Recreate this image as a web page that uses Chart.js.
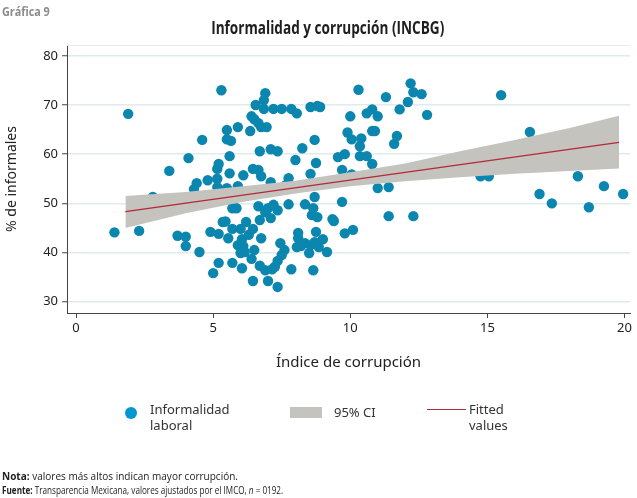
<!DOCTYPE html>
<html lang="es">
<head>
<meta charset="utf-8">
<title>Informalidad y corrupción (INCBG)</title>
<script src="https://cdn.jsdelivr.net/npm/chart.js@4.4.1/dist/chart.umd.min.js"></script>
<style>
  body { margin: 0; background: #fff; }
  #wrap { position: relative; width: 637px; height: 498px; overflow: hidden; font-family: "Open Sans", sans-serif; color: #222; }
  #chart { position: absolute; left: 0; top: 0; }
  .abs { position: absolute; white-space: nowrap; }
  .sq { display: inline-block; transform-origin: left center; }
  #grafica { left: 2px; top: 3px; font-size: 12px; font-weight: 700; color: #8c8c8c; }
  #titulo { left: 0; top: 17px; width: 656px; text-align: center; font-size: 17px; font-weight: 700; line-height: 22px; color: #1e1e1e; }
  #titulo span { transform-origin: center center; transform: scaleX(0.8); }
  .leg { font-family: "Noto Sans", sans-serif; font-size: 13px; line-height: 16px; color: #333; }
  .notas { left: 2px; font-size: 11px; line-height: 13px; color: #222; }
</style>
</head>
<body>
<div id="wrap">
  <canvas id="chart" width="637" height="498"></canvas>
  <div id="grafica" class="abs"><span class="sq" style="transform:scaleX(0.9)">Gráfica 9</span></div>
  <div id="titulo" class="abs"><span class="sq">Informalidad y corrupción (INCBG)</span></div>

  <div class="abs" style="left:125px;top:407px;width:12px;height:12px;border-radius:50%;background:#0397d2"></div>
  <div class="abs leg" style="left:150px;top:401px">Informalidad<br>laboral</div>
  <div class="abs" style="left:290px;top:407px;width:32px;height:11px;background:#c4c3be"></div>
  <div class="abs leg" style="left:334px;top:404px">95% CI</div>
  <div class="abs" style="left:427px;top:409px;width:39px;height:1px;background:#b5283a"></div>
  <div class="abs leg" style="left:469px;top:401px">Fitted<br>values</div>

  <div class="abs notas" style="top:469px"><span class="sq" style="transform:scaleX(0.91)"><b>Nota:</b> valores más altos indican mayor corrupción.</span></div>
  <div class="abs notas" style="top:483px"><span class="sq" style="transform:scaleX(0.74)"><b>Fuente:</b> Transparencia Mexicana, valores ajustados por el IMCO, <i>n</i> = 0192.</span></div>
</div>
<script>
// datos
const corrupcion = [
  1.9, 1.4, 2.3, 2.8, 3.4, 3.7, 4.0, 4.0, 4.1, 4.5, 4.4, 4.3, 4.6, 4.8, 4.9, 5.0,
  5.15, 5.2, 5.15, 5.15, 5.2, 5.2, 5.3, 5.35, 5.45, 5.5, 5.5, 5.65, 5.6, 5.6, 5.5, 5.55,
  5.7, 5.7, 5.7, 5.85, 5.9, 5.9, 5.9, 6.0, 6.05, 6.05, 6.1, 6.1, 6.15, 6.2, 6.3, 6.35,
  6.4, 6.4, 6.5, 6.45, 6.45, 6.5, 6.45, 6.55, 6.65, 6.65, 6.65, 6.7, 6.7, 6.7, 6.75, 6.75,
  6.75, 6.85, 6.9, 6.85, 6.9, 6.9, 6.95, 7.0, 7.0, 7.1, 7.1, 7.1, 7.15, 7.2, 7.2, 7.25,
  7.35, 7.35, 7.35, 7.45, 7.5, 7.5, 7.6, 7.35, 7.65, 7.75, 7.75, 7.85, 7.85, 8.0, 8.05, 8.05,
  8.1, 8.1, 8.2, 8.25, 8.35, 8.35, 8.5, 8.55, 8.55, 8.55, 8.6, 8.65, 8.65, 8.7, 8.7, 8.7,
  8.75, 8.75, 8.8, 8.8, 8.85, 8.9, 9.0, 9.15, 9.35, 9.4, 9.55, 9.7, 9.7, 9.8, 9.8, 9.9,
  10.0, 10.05, 10.05, 10.1, 10.3, 10.35, 10.35, 10.4, 10.6, 10.6, 10.8, 10.8, 10.9, 10.8, 11.0, 11.0,
  11.3, 11.4, 11.4, 11.6, 11.7, 11.8, 12.1, 12.2, 12.3, 12.3, 12.6, 12.8, 14.75, 15.05, 15.5, 16.55,
  16.9, 17.35, 18.3, 18.7, 19.25, 19.95, 6.0
];
const informalidad = [
  68.2, 44.1, 44.4, 51.3, 56.6, 43.4, 43.2, 41.3, 59.2, 40.1, 54.1, 52.9, 62.9, 54.7, 44.2, 35.8,
  57.0, 58.0, 55.0, 53.3, 43.8, 37.9, 73.0, 46.2, 46.3, 64.9, 63.0, 62.7, 59.6, 56.1, 53.1, 42.9,
  44.8, 37.9, 49.0, 49.0, 65.5, 53.5, 41.5, 44.8, 42.7, 36.8, 41.3, 55.7, 40.1, 46.2, 43.6, 64.7,
  38.7, 67.7, 67.1, 57.0, 44.8, 40.5, 34.2, 70.0, 66.3, 56.8, 49.4, 46.6, 37.3, 60.6, 65.5, 55.5,
  42.9, 71.0, 72.4, 69.2, 48.2, 36.4, 65.5, 49.0, 34.2, 61.0, 47.0, 54.3, 36.6, 69.2, 49.7, 37.1,
  60.6, 48.6, 33.0, 41.9, 69.2, 39.5, 40.5, 38.3, 53.7, 55.1, 49.8, 69.2, 36.6, 58.8, 68.3, 41.1,
  44.0, 42.9, 41.3, 61.2, 49.8, 41.9, 39.9, 69.6, 56.0, 41.5, 47.6, 49.0, 36.4, 62.9, 51.3, 42.1,
  58.2, 44.2, 69.8, 47.2, 41.1, 69.6, 42.7, 40.1, 46.8, 46.4, 59.4, 56.8, 50.3, 60.0, 43.9, 64.4,
  67.7, 63.0, 55.9, 44.6, 73.1, 61.6, 59.6, 63.2, 68.3, 59.6, 69.1, 64.7, 64.7, 58.0, 67.7, 53.1,
  71.6, 53.3, 47.4, 62.1, 63.7, 69.1, 70.6, 74.4, 72.6, 47.4, 72.2, 68.0, 55.5, 55.5, 72.0, 64.5,
  51.9, 50.0, 55.5, 49.2, 53.5, 51.9, 39.9
];

// intervalo de confianza 95% y valores ajustados
const ciX     = [1.8, 4, 6, 8, 10, 12, 14, 16, 18, 19.8];
const ciUpper = [51.5, 52.3, 53.4, 54.6, 56.3, 58.1, 60.6, 62.9, 65.3, 67.8];
const ciLower = [45.0, 48.0, 50.2, 52.0, 53.5, 54.5, 55.3, 56.0, 56.6, 57.1];
const fitX = [1.8, 19.8];
const fitY = [48.3, 62.4];

const xTicks = [0, 5, 10, 15, 20];
const yTicks = [30, 40, 50, 60, 70, 80];

const toXY = (xs, ys) => xs.map((x, i) => ({ x: x, y: ys[i] }));

// linea tenue arriba del area de la grafica
const marcoSuperior = {
    id: 'marcoSuperior',
    beforeDatasetsDraw(chart) {
        const { ctx, chartArea } = chart;
        ctx.save();
        ctx.strokeStyle = '#e6eeee';
        ctx.lineWidth = 1;
        ctx.beginPath();
        ctx.moveTo(chartArea.left, chartArea.top + 0.5);
        ctx.lineTo(chartArea.right, chartArea.top + 0.5);
        ctx.stroke();
        ctx.restore();
    }
};

const fuente = 'Noto Sans';

new Chart(document.getElementById('chart'), {
    type: 'scatter',
    data: {
        datasets: [{
            label: 'Informalidad laboral',
            data: toXY(corrupcion, informalidad),
            backgroundColor: '#0b86ae',
            borderWidth: 0,
            pointRadius: 5.2,
            pointHoverRadius: 5.2,
            order: 2
        }, {
            label: '95% CI',
            type: 'line',
            data: toXY(ciX, ciUpper),
            borderColor: 'rgba(0,0,0,0)',
            borderWidth: 0,
            pointRadius: 0,
            backgroundColor: '#c4c3be',
            fill: '+1',
            order: 1
        }, {
            label: 'ci inferior',
            type: 'line',
            data: toXY(ciX, ciLower),
            borderColor: 'rgba(0,0,0,0)',
            borderWidth: 0,
            pointRadius: 0,
            fill: false,
            order: 1
        }, {
            label: 'Fitted values',
            type: 'line',
            data: toXY(fitX, fitY),
            borderColor: '#b5283a',
            borderWidth: 1.3,
            pointRadius: 0,
            fill: false,
            order: 0
        }]
    },
    options: {
        responsive: false,
        animation: false,
        devicePixelRatio: 1,
        layout: {
            padding: { left: 0, right: 7, top: 45, bottom: 125 }
        },
        plugins: {
            legend: { display: false },
            title: { display: false },
            tooltip: { enabled: false }
        },
        scales: {
            x: {
                type: 'linear',
                min: -0.33,
                max: 20.2,
                afterBuildTicks: s => { s.ticks = xTicks.map(v => ({ value: v })); },
                afterFit: s => { s.height = 60; },
                grid: { drawOnChartArea: false, drawTicks: true, tickLength: 5, tickColor: '#444', tickWidth: 1 },
                border: { color: '#444', width: 1 },
                ticks: { font: { family: fuente, size: 13 }, color: '#222', padding: 2, maxRotation: 0 },
                title: {
                    display: true,
                    text: 'Índice de corrupción',
                    font: { family: fuente, size: 15 },
                    color: '#222',
                    padding: { top: 0, bottom: 1 }
                }
            },
            y: {
                min: 27.7,
                max: 82.2,
                afterBuildTicks: s => { s.ticks = yTicks.map(v => ({ value: v })); },
                afterFit: s => { s.width = 67; },
                grid: { color: '#e0ebee', lineWidth: 1.5, tickColor: '#444', tickWidth: 1, tickLength: 5 },
                border: { color: '#444', width: 1 },
                ticks: { font: { family: fuente, size: 13 }, color: '#222', padding: 4 },
                title: {
                    display: true,
                    text: '% de informales',
                    font: { family: fuente, size: 14 },
                    color: '#222',
                    padding: { top: 4, bottom: 0 }
                }
            }
        }
    },
    plugins: [marcoSuperior]
});
</script>
</body>
</html>
